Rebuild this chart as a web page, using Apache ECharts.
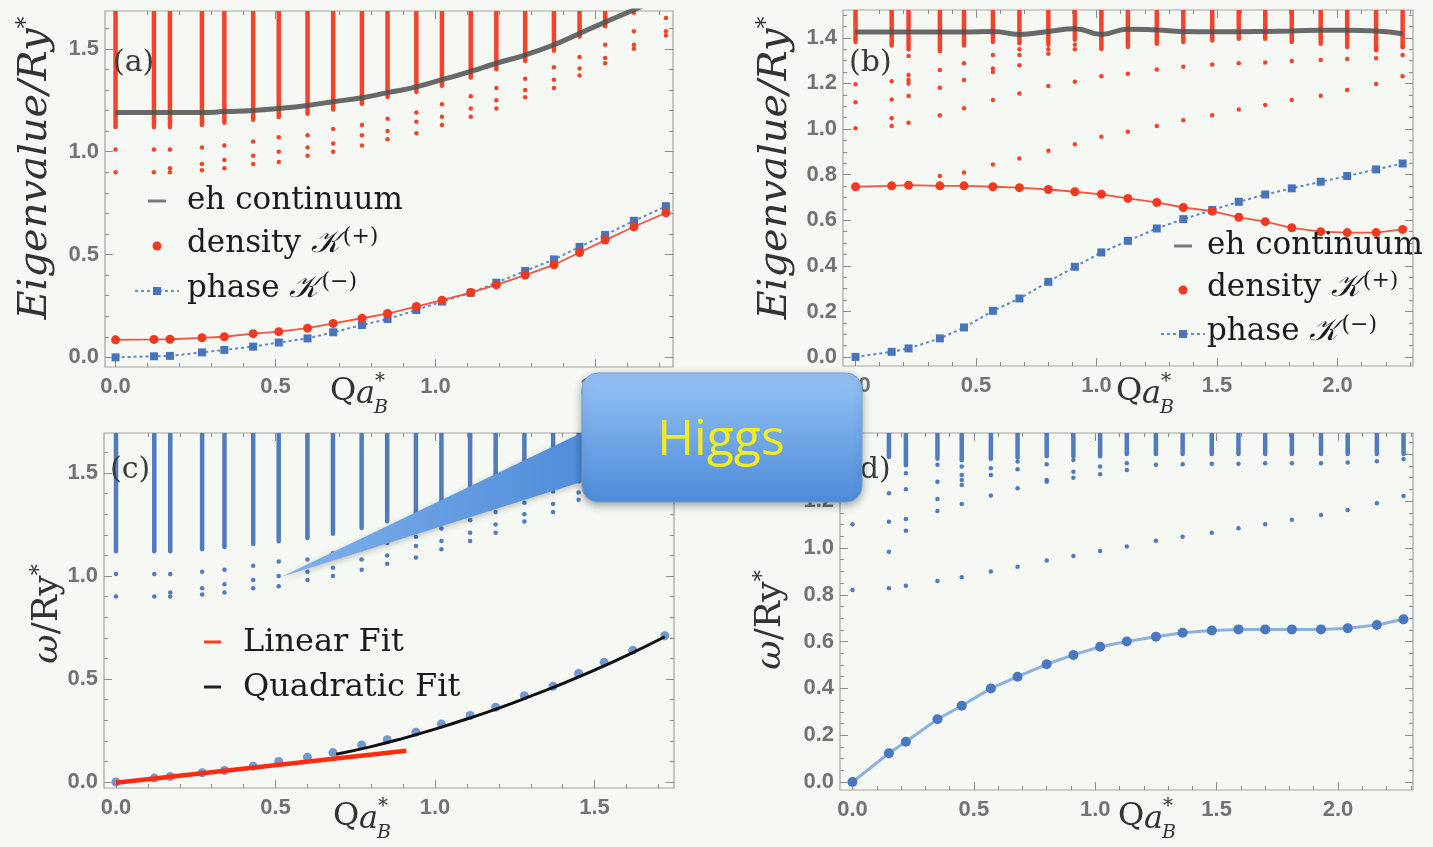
<!DOCTYPE html>
<html><head><meta charset="utf-8">
<script src="https://cdn.jsdelivr.net/npm/echarts@6/dist/echarts.min.js"></script>
<style>html,body{margin:0;padding:0;background:#f6f9f3;}#c{width:1433px;height:847px;}</style>
</head><body><div id="c"></div>
<script>
// ---------------- DATA ----------------
// Q values (Q a_B^*) for panels (a) and (c)
const qA = [0, 0.12, 0.17, 0.27, 0.34, 0.43, 0.51, 0.60, 0.68, 0.77, 0.85, 0.94, 1.02, 1.11, 1.19, 1.28, 1.37, 1.45, 1.53, 1.62, 1.72];
// Q values for panels (b) and (d)
const qB = [0, 0.15, 0.22, 0.35, 0.45, 0.57, 0.68, 0.80, 0.91, 1.02, 1.13, 1.25, 1.36, 1.48, 1.59, 1.70, 1.81, 1.93, 2.04, 2.16, 2.27];

// Panel (a)
const densityA = [0.085, 0.087, 0.088, 0.095, 0.100, 0.115, 0.125, 0.142, 0.165, 0.190, 0.213, 0.247, 0.278, 0.315, 0.352, 0.400, 0.450, 0.510, 0.570, 0.635, 0.703];
const phaseA   = [0.000, 0.005, 0.007, 0.024, 0.036, 0.052, 0.072, 0.092, 0.122, 0.157, 0.186, 0.230, 0.271, 0.314, 0.363, 0.420, 0.476, 0.537, 0.595, 0.664, 0.735];
const ehContA  = [1.19, 1.19, 1.19, 1.19, 1.195, 1.20, 1.21, 1.225, 1.243, 1.262, 1.287, 1.315, 1.35, 1.39, 1.43, 1.47, 1.52, 1.575, 1.63, 1.69, 1.76];
const colLowA  = [1.13, 1.13, 1.13, 1.14, 1.15, 1.165, 1.178, 1.194, 1.215, 1.243, 1.275, 1.30, 1.33, 1.37, 1.41, 1.45, 1.50, 1.57, 1.62, null, null];
const colTopA  = 1.68;
const dotsA = [
  [1.01, 0.90], [1.01, 0.90], [1.01, 0.92, 0.90], [1.02, 0.94, 0.91], [1.03, 0.96, 0.92],
  [1.05, 0.98, 0.94], [1.07, 1.00, 0.95], [1.08, 1.02, 0.98], [1.11, 1.04, 1.00], [1.13, 1.08, 1.03],
  [1.16, 1.10, 1.06], [1.19, 1.145, 1.09], [1.23, 1.17, 1.13], [1.27, 1.21, 1.17], [1.31, 1.25, 1.21],
  [1.355, 1.30, 1.265], [1.41, 1.35, 1.31], [1.46, 1.405, 1.37], [1.52, 1.455, 1.43],
  [1.675, 1.585, 1.52, 1.50], [1.65, 1.585, 1.565]
];

// Panel (b)
const densityB = [0.747, 0.751, 0.754, 0.751, 0.751, 0.747, 0.743, 0.735, 0.725, 0.714, 0.696, 0.678, 0.656, 0.640, 0.613, 0.594, 0.567, 0.550, 0.546, 0.546, 0.560];
const phaseB   = [0.001, 0.023, 0.038, 0.082, 0.130, 0.203, 0.257, 0.330, 0.396, 0.459, 0.510, 0.564, 0.605, 0.645, 0.681, 0.713, 0.740, 0.769, 0.794, 0.823, 0.849];
const ehContB  = [1.425, 1.425, 1.425, 1.425, 1.425, 1.428, 1.415, 1.428, 1.44, 1.415, 1.438, 1.434, 1.428, 1.427, 1.427, 1.428, 1.43, 1.433, 1.433, 1.43, 1.418];
const colLowB  = [1.39, 1.375, 1.37, 1.35, 1.375, 1.39, 1.385, 1.39, 1.40, 1.36, 1.368, 1.383, 1.39, 1.397, 1.405, 1.405, 1.39, 1.383, 1.368, 1.354, 1.37];
const colTopB  = 1.52;
const dotsB = [
  [1.196, 1.117, 1.003], [1.21, 1.13, 1.047, 1.013], [1.35, 1.32, 1.237, 1.215, 1.20, 1.145, 1.028],
  [1.259, 1.181, 1.061, 0.794], [1.288, 1.215, 1.091, 0.81], [1.325, 1.266, 1.25, 1.127, 0.845],
  [1.35, 1.325, 1.28, 1.156, 0.871], [1.37, 1.35, 1.33, 1.189, 0.905], [1.37, 1.35, 1.207, 0.933],
  [1.232, 0.966], [1.243, 0.988], [1.261, 1.013], [1.273, 1.039], [1.283, 1.061], [1.288, 1.086],
  [1.292, 1.105], [1.298, 1.127], [1.303, 1.146], [1.307, 1.171], [1.35, 1.31, 1.197], [1.36, 1.325, 1.232]
];

// Panel (c)
const omegaC = [0.0, 0.019, 0.027, 0.045, 0.056, 0.077, 0.10, 0.12, 0.143, 0.18, 0.205, 0.242, 0.282, 0.323, 0.363, 0.419, 0.465, 0.527, 0.581, 0.64, 0.71];
const linFitQ = [0, 0.91];
const linFitW = [-0.003, 0.152];
const quadFitQ = [0.69, 0.80, 0.90, 1.00, 1.10, 1.20, 1.30, 1.40, 1.50, 1.60, 1.72];
const quadFitW = [0.135, 0.172, 0.212, 0.257, 0.306, 0.359, 0.417, 0.478, 0.543, 0.613, 0.705];

// Panel (d)
const omegaD = [0.0, 0.123, 0.172, 0.268, 0.326, 0.400, 0.450, 0.503, 0.543, 0.578, 0.600, 0.621, 0.638, 0.647, 0.652, 0.652, 0.652, 0.652, 0.657, 0.671, 0.695];
const colLowD = [1.40, 1.397, 1.362, 1.39, 1.383, 1.39, 1.395, 1.40, 1.40, 1.40, 1.41, 1.41, 1.41, 1.41, 1.41, 1.41, 1.41, 1.41, 1.41, 1.41, 1.41];
const colTopD = 1.49;
const dotsD = [
  [1.101, 0.82], [1.234, 1.112, 0.984, 0.828], [1.319, 1.251, 1.124, 1.073, 0.838],
  [1.355, 1.283, 1.209, 1.158, 0.859], [1.348, 1.312, 1.29, 1.269, 1.188, 0.875],
  [1.34, 1.312, 1.224, 0.899], [1.369, 1.336, 1.255, 0.92], [1.358, 1.29, 1.283, 0.946],
  [1.376, 1.326, 1.30, 0.966], [1.348, 1.315, 0.987], [1.362, 1.333, 1.006],
  [1.355, 1.031], [1.357, 1.048], [1.36, 1.065], [1.36, 1.084], [1.362, 1.101], [1.362, 1.12],
  [1.362, 1.141], [1.365, 1.162], [1.37, 1.191], [1.38, 1.222]
];

// Tick labels
const ticksQ1 = [0, 0.5, 1.0, 1.5];
const ticksQ2 = [0, 0.5, 1.0, 1.5, 2.0];
const ticksY1 = [0, 0.5, 1.0, 1.5];
const ticksY2 = [0, 0.2, 0.4, 0.6, 0.8, 1.0, 1.2, 1.4];

// ---------------- STYLE ----------------
const RED = '#f2391f', BLUE = '#4774bb', GRAYTICK = '#8c8c8c', LABEL = '#727272';
const SERIF = '"DejaVu Serif", "Liberation Serif", serif';

function minors(a, b, s, majors) {
  const r = [];
  for (let i = 0; a + i * s <= b + 1e-9; i++) {
    const v = Math.round((a + i * s) * 1000) / 1000;
    if (!majors.some(m => Math.abs(m - v) < 1e-6)) r.push(v);
  }
  return r;
}

function axisSet(dim, gi, min, max, major, minor) {
  const base = { type: 'value', gridIndex: gi, min: min, max: max, axisLine: { show: false, onZero: false }, splitLine: { show: false }, scale: true };
  const pos = dim === 'x' ? ['bottom', 'top'] : ['left', 'right'];
  const tick = (vals, len) => ({ show: true, inside: true, length: len, customValues: vals, lineStyle: { color: GRAYTICK, width: 1 } });
  const lab = {
    show: true, customValues: major, formatter: v => (Math.round(v * 10) / 10).toFixed(1),
    margin: dim === 'x' ? 9 : 6, color: LABEL, fontSize: 22, fontWeight: 'bold', fontFamily: '"Liberation Sans", Arial, sans-serif'
  };
  return [
    Object.assign({}, base, { position: pos[0], axisTick: tick(major, 8), axisLabel: lab }),
    Object.assign({}, base, { position: pos[0], axisTick: tick(minor, 4), axisLabel: { show: false } }),
    Object.assign({}, base, { position: pos[1], axisTick: tick(major, 8), axisLabel: { show: false } }),
    Object.assign({}, base, { position: pos[1], axisTick: tick(minor, 4), axisLabel: { show: false } })
  ];
}

const ranges = [
  { x: [-0.033, 1.742], y: [-0.047, 1.684], xt: ticksQ1, yt: ticksY1, xm: minors(0, 1.7, 0.1, ticksQ1), ym: minors(0, 1.6, 0.1, ticksY1) },
  { x: [-0.052, 2.313], y: [-0.039, 1.522], xt: ticksQ2, yt: ticksY2, xm: minors(0, 2.3, 0.1, ticksQ2), ym: minors(0, 1.5, 0.05, ticksY2) },
  { x: [-0.0376, 1.749], y: [-0.029, 1.694], xt: ticksQ1, yt: ticksY1, xm: minors(0, 1.7, 0.1, ticksQ1), ym: minors(0, 1.6, 0.1, ticksY1) },
  { x: [-0.0515, 2.309], y: [-0.034, 1.491], xt: ticksQ2, yt: ticksY2, xm: minors(0, 2.3, 0.1, ticksQ2), ym: minors(0, 1.45, 0.05, ticksY2) }
];
const grids = [
  { left: 105, top: 11, width: 568, height: 356 },
  { left: 843, top: 10, width: 570, height: 356 },
  { left: 104, top: 433, width: 570, height: 355 },
  { left: 840, top: 433, width: 573, height: 357 }
].map(g => Object.assign(g, { show: true, borderColor: '#a3a3a3', borderWidth: 1.2, backgroundColor: 'transparent' }));

const xAxes = [], yAxes = [];
ranges.forEach((r, gi) => {
  xAxes.push(...axisSet('x', gi, r.x[0], r.x[1], r.xt, r.xm));
  yAxes.push(...axisSet('y', gi, r.y[0], r.y[1], r.yt, r.ym));
});

function pairs(q, v) { return q.map((x, i) => [x, v[i]]); }
function dotPairs(q, lists) { const o = []; q.forEach((x, i) => (lists[i] || []).forEach(v => o.push([x, v]))); return o; }
function cols(q, lows, top) { return q.map((x, i) => lows[i] == null ? null : [x, lows[i], top]).filter(Boolean); }
function colSeries(gi, data, color) {
  return {
    type: 'custom', xAxisIndex: gi * 4, yAxisIndex: gi * 4, data: data, clip: true, silent: true, z: 2,
    encode: { x: 0, y: [1, 2] },
    renderItem: function (params, api) {
      const a = api.coord([api.value(0), api.value(1)]);
      const b = api.coord([api.value(0), api.value(2)]);
      return { type: 'line', shape: { x1: a[0], y1: a[1] + 2, x2: b[0], y2: b[1] }, style: { stroke: color, lineWidth: 4.5, lineCap: 'round', opacity: 0.95 } };
    }
  };
}
function dotSeries(gi, data, color) {
  return { type: 'scatter', xAxisIndex: gi * 4, yAxisIndex: gi * 4, data: data, symbol: 'circle', symbolSize: 4.5, itemStyle: { color: color, opacity: 0.95 }, silent: true, z: 3 };
}

const series = [
  // (a)
  colSeries(0, cols(qA, colLowA, colTopA), RED),
  dotSeries(0, dotPairs(qA, dotsA), RED),
  { type: 'line', xAxisIndex: 0, yAxisIndex: 0, data: pairs(qA, ehContA), smooth: true, symbol: 'none', lineStyle: { color: 'rgba(80,80,80,0.85)', width: 5 }, z: 4 },
  { type: 'line', xAxisIndex: 0, yAxisIndex: 0, data: pairs(qA, phaseA), symbol: 'rect', symbolSize: 8, itemStyle: { color: BLUE }, lineStyle: { color: '#5f88c8', width: 2, type: [3, 3] }, z: 5 },
  { type: 'line', xAxisIndex: 0, yAxisIndex: 0, data: pairs(qA, densityA), symbol: 'circle', symbolSize: 9, itemStyle: { color: RED }, lineStyle: { color: '#f55440', width: 1.8 }, z: 6 },
  // (b)
  colSeries(1, cols(qB, colLowB, colTopB), RED),
  dotSeries(1, dotPairs(qB, dotsB), RED),
  { type: 'line', xAxisIndex: 4, yAxisIndex: 4, data: pairs(qB, ehContB), smooth: true, symbol: 'none', lineStyle: { color: 'rgba(80,80,80,0.85)', width: 5 }, z: 4 },
  { type: 'line', xAxisIndex: 4, yAxisIndex: 4, data: pairs(qB, phaseB), symbol: 'rect', symbolSize: 8, itemStyle: { color: BLUE }, lineStyle: { color: '#5f88c8', width: 2, type: [3, 3] }, z: 5 },
  { type: 'line', xAxisIndex: 4, yAxisIndex: 4, data: pairs(qB, densityB), symbol: 'circle', symbolSize: 9, itemStyle: { color: RED }, lineStyle: { color: '#f55440', width: 1.8 }, z: 6 },
  // (c)
  colSeries(2, cols(qA, colLowA, colTopA + 0.01), BLUE),
  dotSeries(2, dotPairs(qA, dotsA), BLUE),
  { type: 'scatter', xAxisIndex: 8, yAxisIndex: 8, data: pairs(qA, omegaC), symbol: 'circle', symbolSize: 9, itemStyle: { color: '#5280c6' }, z: 4 },
  { type: 'line', xAxisIndex: 8, yAxisIndex: 8, data: pairs(linFitQ, linFitW), symbol: 'none', lineStyle: { color: '#ff2a10', width: 4.5 }, z: 6 },
  { type: 'line', xAxisIndex: 8, yAxisIndex: 8, data: pairs(quadFitQ, quadFitW), smooth: true, symbol: 'none', lineStyle: { color: '#111', width: 3 }, z: 6 },
  // (d)
  colSeries(3, cols(qB, colLowD, colTopD), BLUE),
  dotSeries(3, dotPairs(qB, dotsD), BLUE),
  { type: 'line', xAxisIndex: 12, yAxisIndex: 12, data: pairs(qB, omegaD), symbol: 'circle', symbolSize: 10, itemStyle: { color: '#4a78c0' }, lineStyle: { color: '#8db0de', width: 3 }, z: 5 }
];

// ---------------- ANNOTATIONS ----------------
const G = [];
function txt(x, y, text, font, opts) {
  G.push(Object.assign({ type: 'text', x: x, y: y, z: 50, style: Object.assign({ text: text, font: font, fill: '#1b1b1b', align: 'left', verticalAlign: 'middle' }, (opts && opts.style) || {}) }, (opts && opts.el) || {}));
}
// panel labels
[[113, 63, '(a)'], [849, 63, '(b)'], [110, 470, '(c)'], [848, 470, '(d)']].forEach(p => txt(p[0], p[1], p[2], '30px ' + SERIF, { style: { fill: '#3a3a3a' } }));

// y titles
function yTitle(x, y, rich, text) {
  G.push({ type: 'text', x: x, y: y, rotation: Math.PI / 2, z: 50, style: { text: text, rich: rich, align: 'center', verticalAlign: 'middle', fill: '#333' } });
}
const eigRich = { m: { font: 'italic 40px ' + SERIF, fill: '#333' }, s: { font: '24px ' + SERIF, fill: '#333', verticalAlign: 'top', padding: [0, 0, 18, 0] } };
yTitle(36, 168, eigRich, '{m|Eigenvalue/Ry}{s|*}');
yTitle(776, 168, eigRich, '{m|Eigenvalue/Ry}{s|*}');
const omRich = { w: { font: 'italic 36px ' + SERIF, fill: '#333' }, m: { font: '36px ' + SERIF, fill: '#333' }, s: { font: '22px ' + SERIF, fill: '#333', verticalAlign: 'top', padding: [0, 0, 16, 0] } };
yTitle(48, 614, omRich, '{w|ω}{m|/Ry}{s|*}');
yTitle(771, 620, omRich, '{w|ω}{m|/Ry}{s|*}');

// x titles  Q a*_B
function xTitle(x, y) {
  txt(x, y, 'Q', '32px ' + SERIF, { style: { fill: '#333' } });
  txt(x + 26, y + 3, 'a', 'italic 32px ' + SERIF, { style: { fill: '#333' } });
  txt(x + 45, y - 10, '*', '20px ' + SERIF, { style: { fill: '#333' } });
  txt(x + 44, y + 16, 'B', 'italic 19px ' + SERIF, { style: { fill: '#333' } });
}
xTitle(330, 392); xTitle(1116, 392); xTitle(333, 817); xTitle(1118, 817);

// legends
function kLegend(x0, y0, dy, mx) {
  G.push({ type: 'line', z: 50, shape: { x1: mx - 9, y1: y0, x2: mx + 9, y2: y0 }, style: { stroke: '#7a7a7a', lineWidth: 3 } });
  G.push({ type: 'circle', z: 50, shape: { cx: mx, cy: y0 + dy, r: 4.5 }, style: { fill: RED } });
  G.push({ type: 'line', z: 50, shape: { x1: mx - 22, y1: y0 + 2 * dy, x2: mx + 22, y2: y0 + 2 * dy }, style: { stroke: '#6a90cc', lineWidth: 2, lineDash: [3, 3] } });
  G.push({ type: 'rect', z: 51, shape: { x: mx - 4, y: y0 + 2 * dy - 4, width: 8, height: 8 }, style: { fill: BLUE } });
  const rich = { t: { font: '31px ' + SERIF, fill: '#1b1b1b' }, k: { font: 'italic 31px ' + SERIF, fill: '#1b1b1b' }, s: { font: '22px ' + SERIF, fill: '#1b1b1b', verticalAlign: 'top', padding: [0, 0, 14, 3] } };
  G.push({ type: 'text', x: x0, y: y0, z: 50, style: { text: 'eh continuum', font: '31px ' + SERIF, fill: '#1b1b1b', verticalAlign: 'middle' } });
  G.push({ type: 'text', x: x0, y: y0 + dy - 2, z: 50, style: { text: '{t|density }{k|𝒦}{s|(+)}', rich: rich, verticalAlign: 'middle' } });
  G.push({ type: 'text', x: x0, y: y0 + 2 * dy - 2, z: 50, style: { text: '{t|phase }{k|𝒦}{s|(−)}', rich: rich, verticalAlign: 'middle' } });
}
kLegend(187, 201, 45, 157);
kLegend(1207, 246, 44, 1183);

// (c) legend
G.push({ type: 'line', z: 50, shape: { x1: 204, y1: 642, x2: 221, y2: 642 }, style: { stroke: '#ff3a20', lineWidth: 3 } });
G.push({ type: 'line', z: 50, shape: { x1: 204, y1: 687, x2: 221, y2: 687 }, style: { stroke: '#222', lineWidth: 3 } });
txt(243, 643, 'Linear Fit', '32px ' + SERIF);
txt(243, 688, 'Quadratic Fit', '32px ' + SERIF);

// Higgs callout
G.push({
  type: 'polygon', z: 100, shape: { points: [[281, 577], [600, 424], [600, 476]] },
  style: { fill: { type: 'linear', x: 0, y: 0, x2: 1, y2: 0, colorStops: [{ offset: 0, color: '#7fb1ec' }, { offset: 1, color: '#4d8ad8' }] }, shadowBlur: 6, shadowColor: 'rgba(0,0,0,0.25)', shadowOffsetY: 2 }
});
G.push({
  type: 'rect', z: 101, shape: { x: 582, y: 373, width: 280, height: 129, r: 16 },
  style: { fill: { type: 'linear', x: 0, y: 0, x2: 0, y2: 1, colorStops: [{ offset: 0, color: '#95c3f6' }, { offset: 1, color: '#4e8bd9' }] }, stroke: '#6f9ed8', lineWidth: 1, shadowBlur: 8, shadowColor: 'rgba(0,0,0,0.35)', shadowOffsetY: 3 }
});
G.push({ type: 'text', x: 721, y: 441, z: 102, style: { text: 'Higgs', font: '50px "Open Sans", "DejaVu Sans", sans-serif', fill: '#f3ec1c', align: 'center', verticalAlign: 'middle' } });

const chart = echarts.init(document.getElementById('c'), null, { renderer: 'canvas' });
chart.setOption({
  animation: false,
  backgroundColor: '#f6f9f3',
  grid: grids,
  xAxis: xAxes,
  yAxis: yAxes,
  series: series,
  graphic: { elements: G }
});
</script></body></html>
